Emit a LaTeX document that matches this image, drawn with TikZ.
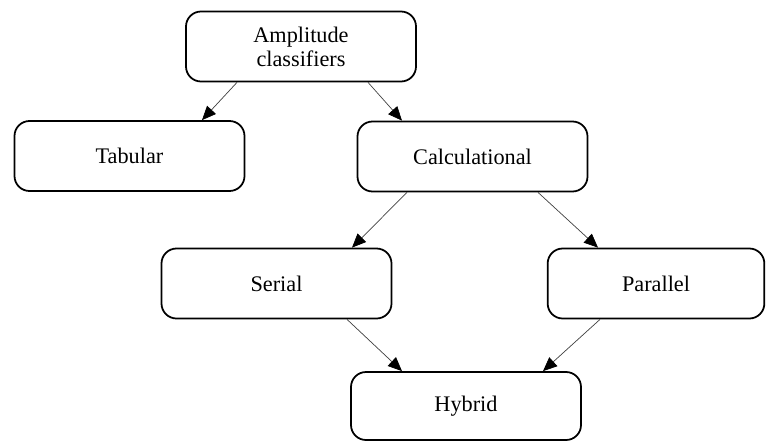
\documentclass[tikz,border=0pt]{standalone}
\usepackage{fontspec}
\setmainfont{Liberation Serif}
\usetikzlibrary{shapes,arrows.meta,positioning,calc}
\tikzstyle{classbox} = [rectangle, draw=black, line width=1.5pt, rounded corners=0.45cm,
    fill=white, minimum width=6.9cm, minimum height=2.1cm, align=center,
    font=\fontsize{19}{20.5}\selectfont]
\tikzstyle{arrow} = [-{Triangle[length=0.42cm, width=0.36cm, black]}, line width=0.6pt, black!75]
\begin{document}
\begin{tikzpicture}[x=0.03cm, y=-0.03cm]
\useasboundingbox (0,0) rectangle (766,441);

\node[classbox] (amp) at (301,46.5) {Amplitude\\classifiers};
\node[classbox] (tab) at (129.5,156) {Tabular};
\node[classbox] (calc) at (472.5,156.5) {Calculational};
\node[classbox] (serial) at (276.5,283.5) {Serial};
\node[classbox, minimum width=6.5cm] (par) at (656,283.5) {Parallel};
\node[classbox, minimum height=2.04cm] (hyb) at (466,406) {Hybrid};

\draw[arrow] ($(amp.south)+(-64,0)$) -- ($(tab.north)+(72.5,0)$);
\draw[arrow] ($(amp.south)+(67,0)$) -- ($(calc.north)+(-70.5,0)$);
\draw[arrow] ($(calc.south)+(-65.5,0)$) -- ($(serial.north)+(75.5,0)$);
\draw[arrow] ($(calc.south)+(65.5,0)$) -- ($(par.north)+(-58,0)$);
\draw[arrow] ($(serial.south)+(70.5,0)$) -- ($(hyb.north)+(-64,0)$);
\draw[arrow] ($(par.south)+(-56,0)$) -- ($(hyb.north)+(77,0)$);

\end{tikzpicture}
\end{document}
